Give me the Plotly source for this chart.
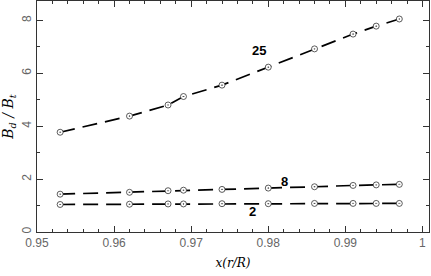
import plotly.graph_objects as go

x_vals = [0.953, 0.962, 0.967, 0.969, 0.974, 0.980, 0.986, 0.991, 0.994, 0.997]
y_25 = [3.77, 4.38, 4.80, 5.12, 5.55, 6.23, 6.92, 7.48, 7.78, 8.05]
y_8 = [1.43, 1.50, 1.56, 1.58, 1.61, 1.66, 1.71, 1.76, 1.78, 1.80]
y_2 = [1.04, 1.05, 1.06, 1.06, 1.07, 1.07, 1.08, 1.08, 1.08, 1.08]
series_names = ["25", "8", "2"]
label_x = [0.9788, 0.9821, 0.9780]
label_y = [6.87, 1.92, 0.78]
x_tick_vals = [0.95, 0.96, 0.97, 0.98, 0.99, 1.0]
x_tick_text = ["0.95", "0.96", "0.97", "0.98", "0.99", "1"]
y_tick_vals = [0, 2, 4, 6, 8]

fig = go.Figure()
for ys in (y_25, y_8, y_2):
    fig.add_trace(go.Scatter(x=x_vals, y=ys, mode="lines",
                             line=dict(color="black", width=1.7, dash="15px,8px"),
                             showlegend=False, hoverinfo="skip"))
    fig.add_trace(go.Scatter(x=x_vals, y=ys, mode="markers",
                             marker=dict(symbol="circle-dot", size=6, color="white",
                                         line=dict(color="#333", width=0.8)),
                             showlegend=False))

for name, lx, ly in zip(series_names, label_x, label_y):
    fig.add_annotation(x=lx, y=ly, text="<b>%s</b>" % name, showarrow=False,
                       font=dict(family="Liberation Sans, Arial", size=13, color="black"))

axis_common = dict(showline=True, linecolor="#333", linewidth=1, mirror="ticks",
                   ticks="inside", ticklen=6, tickcolor="#333", showgrid=False,
                   zeroline=False, ticklabeloverflow="allow", automargin=False,
                   tickfont=dict(family="Liberation Sans, Arial", size=12, color="#666"))

fig.update_xaxes(range=[0.95, 1.00085], tickmode="array", tickvals=x_tick_vals,
                 ticktext=x_tick_text,
                 minor=dict(dtick=0.002, tick0=0.95, ticks="inside", ticklen=3, tickcolor="#333"),
                 title=dict(text="<i>x(r/R)</i>", standoff=9,
                            font=dict(family="DejaVu Serif, serif", size=12, color="black")),
                 **axis_common)
fig.update_yaxes(range=[0, 8.73], tickmode="array", tickvals=y_tick_vals, tickangle=-90,
                 minor=dict(dtick=1, ticks="inside", ticklen=3, tickcolor="#333"),
                 title=dict(text="<i>B<sub>d</sub> / B<sub>t</sub></i>", standoff=6,
                            font=dict(family="DejaVu Serif, serif", size=14, color="black")),
                 **axis_common)

fig.update_layout(template="none", width=431, height=276,
                  margin=dict(l=37, r=2, t=1, b=44, autoexpand=False),
                  plot_bgcolor="white", paper_bgcolor="white")
fig.write_html("out.html", config={"displayModeBar": False},
               post_script="document.body.style.margin='0';")
